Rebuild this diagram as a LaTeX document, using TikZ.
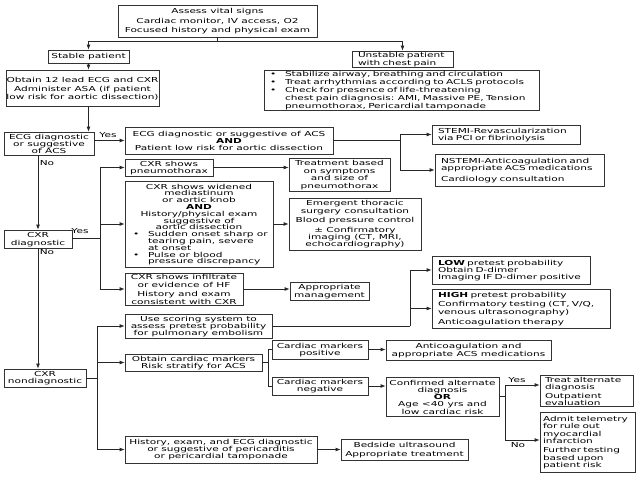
\documentclass[tikz,border=0pt]{standalone}
\usepackage{fontspec}
\setmainfont[FakeStretch=1.54]{DejaVu Sans}
\usetikzlibrary{arrows.meta}
\hyphenpenalty=10000
\exhyphenpenalty=10000
\newcommand\fsz[1]{\fontsize{6.85}{#1}\selectfont}
\newcommand\bx[7][]{\node[frame,minimum width={#5-#3},minimum height={#6-#4}] (#2) at ({(#3+#5)/2},{(#4+#6)/2}) {};
\node[txt,#1] (#2-t) at ([yshift=-0.6pt]#2.center) {#7};}
\newcommand\bu{\makebox[15pt][l]{\textbullet}}
\newcommand\bi{\hspace*{15pt}}
\newcommand\bl[1]{\makebox[132pt][l]{#1}}
\begin{document}
\begin{tikzpicture}[x=1pt,y=-1pt,
  frame/.style={draw=black!80, line width=0.8pt, inner sep=0pt},
  txt/.style={inner sep=0pt, align=center, font=\fsz{7.3}},
  lbox/.style={align=left},
  conn/.style={draw=black!85, line width=0.8pt},
  arr/.style={conn, -{Latex[length=5pt,width=4pt]}},
  lab/.style={font=\fsz{8}, inner sep=0pt}]
\fill[white] (0,0) rectangle (638,479);
\useasboundingbox (0,0) rectangle (638,479);

% boxes
\bx[font=\fsz{9.5}]{top}{118}{5}{317}{37}{Assess vital signs\\Cardiac monitor, IV access, O2\\Focused history and physical exam}
\bx{stable}{48}{50}{129}{63}{Stable patient}
\bx[font=\fsz{8}]{obtain}{6}{70}{159}{106}{Obtain 12 lead ECG and CXR\\[1.5pt]Administer ASA (if patient\\low risk for aortic dissection)}
\bx[lbox,text width=89pt,font=\fsz{8}]{unstable}{352}{51}{453}{67}{Unstable patient\\with chest pain}
\bx[lbox,text width=263pt,font=\fsz{8.2}]{bullets}{264}{70}{539}{110}{\bu Stabilize airway, breathing and circulation\\\bu Treat arrhythmias according to ACLS protocols\\\bu Check for presence of life-threatening\\\bi chest pain diagnosis: AMI, Massive PE, Tension\\\bi pneumothorax, Pericardial tamponade}
\bx[font=\fsz{7}]{ecg}{4}{132}{94}{155}{ECG diagnostic\\or suggestive\\of ACS}
\bx{acs}{125}{127}{333}{154}{ECG diagnostic or suggestive of ACS\\\textbf{AND}\\Patient low risk for aortic dissection}
\bx[lbox,text width=136pt,font=\fsz{7}]{stemi}{432}{125}{580}{144}{STEMI-Revascularization\\via PCI or fibrinolysis}
\bx[lbox,text width=157pt,font=\fsz{7}]{nstemi}{435}{154}{604}{186}{NSTEMI-Anticoagulation and\\appropriate ACS medications\\[4pt]Cardiology consultation}
\bx[font=\fsz{7.5}]{cxrd}{4}{230}{72}{248}{CXR\\diagnostic}
\bx[font=\fsz{7.5}]{pneumo}{125}{159}{213}{176}{CXR shows\\pneumothorax}
\bx[font=\fsz{6.8}]{widened}{125}{181}{273}{267}{CXR shows widened\\mediastinum\\or aortic knob\\\textbf{AND}\\History/physical exam\\suggestive of\\aortic dissection\\\bl{\bu Sudden onset sharp or}\\\bl{\bi tearing pain, severe}\\\bl{\bi at onset}\\\bl{\bu Pulse or blood}\\\bl{\bi pressure discrepancy}}
\bx[font=\fsz{7.5}]{infil}{125}{273}{243}{305}{CXR shows infiltrate\\or evidence of HF\\[2pt]History and exam\\consistent with CXR}
\bx[font=\fsz{7.5}]{treatp}{289}{158}{390}{191}{Treatment based\\on symptoms\\and size of\\pneumothorax}
\bx[font=\fsz{7.4}]{emerg}{289}{198}{421}{250}{Emergent thoracic\\surgery consultation\\[2pt]Blood pressure control\\[2pt]± Confirmatory\\imaging (CT, MRI,\\echocardiography)}
\bx[font=\fsz{8}]{appm}{290}{282}{369}{300}{Appropriate\\management}
\bx[lbox,text width=146pt,font=\fsz{7.3}]{low}{432}{256}{590}{284}{\textbf{LOW} pretest probability\\Obtain D-dimer\\Imaging IF D-dimer positive}
\bx[lbox,text width=166pt,font=\fsz{8}]{high}{432}{289}{610}{328}{\textbf{HIGH} pretest probability\\[1.5pt]Confirmatory testing (CT, V/Q,\\venous ultrasonography)\\[1.5pt]Anticoagulation therapy}
\bx[font=\fsz{7}]{score}{125}{314}{272}{338}{Use scoring system to\\assess pretest probability\\for pulmonary embolism}
\bx[font=\fsz{7}]{nond}{4}{369}{86}{387}{CXR\\nondiagnostic}
\bx[font=\fsz{7.5}]{card}{125}{354}{262}{371}{Obtain cardiac markers\\Risk stratify for ACS}
\bx[font=\fsz{7}]{pos}{272}{340}{368}{359}{Cardiac markers\\positive}
\bx[font=\fsz{7}]{neg}{272}{377}{368}{395}{Cardiac markers\\negative}
\bx[font=\fsz{7.3}]{antic}{386}{340}{551}{360}{Anticoagulation and\\appropriate ACS medications}
\bx[font=\fsz{7.2}]{confirm}{386}{377}{499}{416}{Confirmed alternate\\diagnosis\\\textbf{OR}\\Age <40 yrs and\\low cardiac risk}
\bx[lbox,text width=83pt,font=\fsz{7}]{treat}{540}{375}{633}{406}{Treat alternate\\diagnosis\\[2pt]Outpatient\\evaluation}
\bx[lbox,text width=89pt,font=\fsz{7.3}]{admit}{540}{412}{635}{472}{Admit telemetry\\for rule out\\myocardial\\infarction\\[2pt]Further testing\\based upon\\patient risk}
\bx[font=\fsz{7}]{hist}{125}{436}{317}{463}{History, exam, and ECG diagnostic\\or suggestive of pericarditis\\or pericardial tamponade}
\bx[font=\fsz{9}]{bed}{341}{439}{468}{460}{Bedside ultrasound\\Appropriate treatment}

% labels
\node[lab] (yes1) at (108,135) {Yes};
\node[lab] (no1) at (47,163) {No};
\node[lab] (yes2) at (80,231) {Yes};
\node[lab] (no2) at (47,252) {No};
\node[lab] (yes3) at (517,380) {Yes};
\node[lab] (no3) at (518,445) {No};

% connectors
\coordinate (jt) at (217.5,41);
\draw[conn] (top.south) -- (jt);
\draw[conn] (jt -| stable.north) -- (jt -| unstable.north);
\draw[arr] (jt -| stable.north) -- (stable.north);
\draw[arr] (jt -| unstable.north) -- (unstable.north);
\draw[arr] (stable.south) -- (stable.south |- obtain.north);
\draw[arr] (stable.south |- obtain.south) -- (stable.south |- ecg.north);
\draw[arr] (acs.west -| ecg.east) -- (acs.west);
\coordinate (j1) at (400,140.5);
\draw[conn] (acs.east) -- (j1);
\draw[conn] (j1 |- stemi.west) -- (j1 |- nstemi.west);
\draw[arr] (j1 |- stemi.west) -- (stemi.west);
\draw[arr] (j1 |- nstemi.west) -- (nstemi.west);
\draw[arr] (cxrd.north |- ecg.south) -- (cxrd.north);
\coordinate (b1) at (100,238);
\draw[conn] (cxrd.east |- b1) -- (b1);
\draw[conn] (b1 |- pneumo.west) -- (b1 |- infil.west);
\draw[arr] (b1 |- pneumo.west) -- (pneumo.west);
\draw[arr] (b1 |- widened.west) -- (widened.west);
\draw[arr] (b1 |- infil.west) -- (infil.west);
\draw[arr] (pneumo.east) -- (pneumo.east -| treatp.west);
\draw[arr] (widened.east) -- (widened.east -| emerg.west);
\draw[arr] (infil.east) -- (infil.east -| appm.west);
\draw[arr] (cxrd.south) -- (cxrd.south |- nond.north);
\coordinate (b2) at (97,378);
\draw[conn] (nond.east) -- (b2);
\draw[conn] (b2 |- score.west) -- (b2 |- hist.west);
\draw[arr] (b2 |- score.west) -- (score.west);
\draw[arr] (b2 |- card.west) -- (card.west);
\draw[arr] (b2 |- hist.west) -- (hist.west);
\coordinate (j3) at (410,326);
\draw[conn] (score.east) -- (score.east -| j3);
\draw[conn] (j3 |- low.west) -- (j3 |- score.east);
\draw[arr] (j3 |- low.west) -- (low.west);
\draw[arr] (j3 |- high.west) -- (high.west);
\coordinate (br) at (268,362.5);
\draw[conn] (card.east) -- (card.east -| br);
\draw[conn] (pos.west) -- (br |- pos.west) -- (br |- neg.west) -- (neg.west);
\draw[arr] (pos.east) -- (pos.east -| antic.west);
\draw[arr] (neg.east) -- (neg.east -| confirm.west);
\coordinate (j5) at (505,396.5);
\coordinate (jy) at (505,385);
\coordinate (jn) at (505,440);
\draw[conn] (confirm.east) -- (j5);
\draw[conn] (jy) -- (jn);
\draw[arr] (jy) -- (jy -| treat.west);
\draw[arr] (jn) -- (jn -| admit.west);
\draw[arr] (hist.east) -- (hist.east -| bed.west);
\end{tikzpicture}
\end{document}
